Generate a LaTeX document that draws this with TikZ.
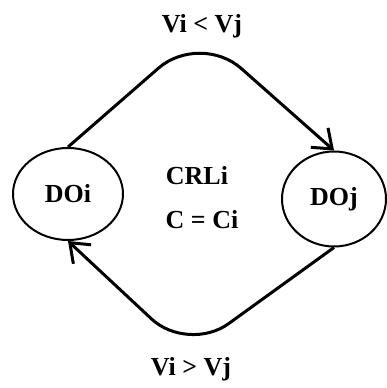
\documentclass[tikz,border=0pt]{standalone}
\usepackage{fontspec}
\setmainfont{Liberation Serif}
\usepackage{xcolor}
\usepackage{tikz}
\usetikzlibrary{arrows.meta, positioning, shapes.geometric}

\begin{document}
\begin{tikzpicture}[x=1pt, y=1pt, font=\fontsize{26}{30}\selectfont\bfseries]
  \tikzstyle{state} = [ellipse, draw, line width=2pt, inner sep=0pt]
  \tikzstyle{flow} = [line width=3pt, -{Straight Barb[length=17pt, width=26pt, line width=3pt]}]
  \tikzstyle{label} = [inner sep=0pt]

  \useasboundingbox (0,0) rectangle (387,388);

  \node [state, minimum width=110pt, minimum height=92pt] (DOi) at (68,194) {DOi};
  \node [state, minimum width=104pt, minimum height=95pt] (DOj) at (334,189) {DOj};

  \node [label] (crl) at (197,212) {CRLi};
  \node [label] (cap) at (202,168) {C = Ci};

  \coordinate (top) at (200,356);
  \coordinate (bottom) at (188,35);

  \node [label] (up) at (202,362) {Vi < Vj};
  \node [label] (down) at (191,19) {Vi > Vj};

  \draw [flow, rounded corners=55pt] (DOi.north) -- (top) -- (DOj.north);
  \draw [flow, rounded corners=50pt] (DOj.south) -- (bottom) -- (DOi.south);
\end{tikzpicture}
\end{document}
